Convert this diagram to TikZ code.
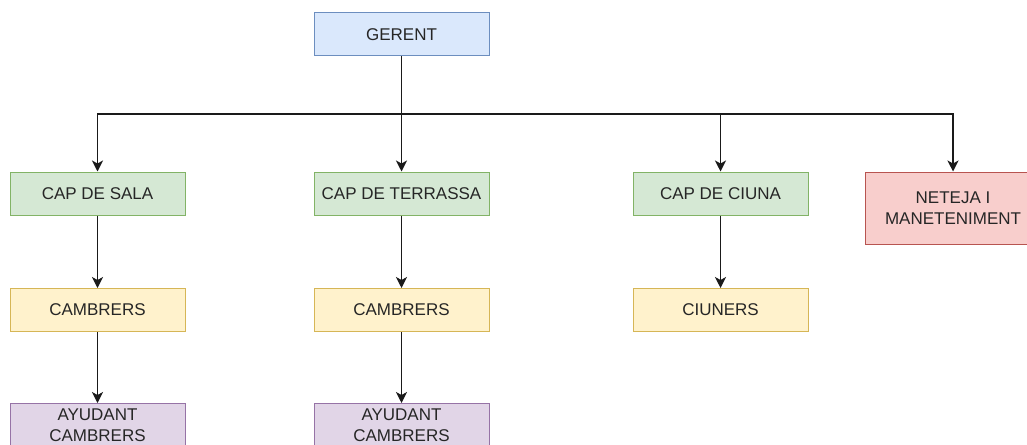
\documentclass[tikz,border=0pt]{standalone}
\usepackage{fontspec}
\setmainfont{Liberation Sans}
\usetikzlibrary{arrows.meta}

\definecolor{bluefill}{HTML}{DAE8FC}\definecolor{blueline}{HTML}{6C8EBF}
\definecolor{greenfill}{HTML}{D5E8D4}\definecolor{greenline}{HTML}{82B366}
\definecolor{yellowfill}{HTML}{FFF2CC}\definecolor{yellowline}{HTML}{D6B656}
\definecolor{redfill}{HTML}{F8CECC}\definecolor{redline}{HTML}{B85450}
\definecolor{purplefill}{HTML}{E1D5E7}\definecolor{purpleline}{HTML}{9673A6}
\definecolor{txt}{HTML}{262626}
\definecolor{wire}{HTML}{1A1A1A}

\tikzset{
  box/.style={rectangle, draw, line width=1pt, minimum width=175pt, minimum height=43pt,
    inner sep=2pt, align=center, text=txt,
    font=\fontsize{17}{20.5}\selectfont},
  boss/.style={box, fill=bluefill, draw=blueline},
  head/.style={box, fill=greenfill, draw=greenline},
  staff/.style={box, fill=yellowfill, draw=yellowline},
  helper/.style={box, fill=purplefill, draw=purpleline},
  service/.style={box, fill=redfill, draw=redline, minimum height=72pt},
  arr/.style={draw=wire, line width=1.3pt,
    -{Stealth[length=11pt,width=11pt,inset=3pt]}},
}

\begin{document}
\begin{tikzpicture}[x=1pt,y=-1pt]
\useasboundingbox (0,0) rectangle (1027,444);

% top
\node[boss] (ger) at (401.5,34.5) {GERENT};

% department heads
\node[head] (sala) at (97.5,193.5) {CAP DE SALA};
\node[head] (terr) at (401.5,193.5) {CAP DE TERRASSA};
\node[head] (ciuna) at (720.5,193.5) {CAP DE CIUNA};
\node[service] (net) at (953,208) {NETEJA I\\MANETENIMENT};

% staff
\node[staff] (camb1) at (97.5,310) {CAMBRERS};
\node[staff] (camb2) at (401.5,310) {CAMBRERS};
\node[staff] (ciun) at (720.5,310) {CIUNERS};

% helpers
\node[helper] (ajud1) at (97.5,425) {AYUDANT\\CAMBRERS};
\node[helper] (ajud2) at (401.5,425) {AYUDANT\\CAMBRERS};

% distribution line
\coordinate (bus) at (401.5,114);
\draw[arr] (ger.south) -- (ger.south |- bus) -| (sala.north);
\draw[arr] (ger.south) -- (terr.north);
\draw[arr] (ger.south) -- (ger.south |- bus) -| (ciuna.north);
\draw[arr] (ger.south) -- (ger.south |- bus) -| (net.north);

% chains
\draw[arr] (sala.south) -- (camb1.north);
\draw[arr] (camb1.south) -- (ajud1.north);
\draw[arr] (terr.south) -- (camb2.north);
\draw[arr] (camb2.south) -- (ajud2.north);
\draw[arr] (ciuna.south) -- (ciun.north);
\end{tikzpicture}
\end{document}
